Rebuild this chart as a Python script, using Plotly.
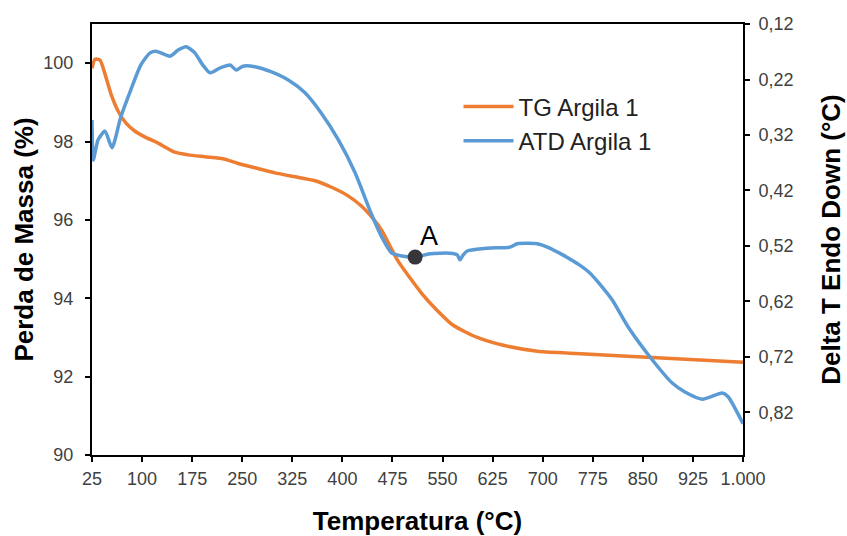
import plotly.graph_objects as go

# TG curve: mass (%) versus temperature (°C)
temp_tg = [25, 29.5, 37, 44.5, 53.5, 64, 76, 89, 104, 124, 149, 169, 194, 224, 244,
           269, 299, 329, 359, 383, 408, 428, 446, 459, 483, 519, 542, 566, 602, 641,
           692, 741, 771, 864, 1000]
mass_tg = [99.87, 100.10, 100.08, 99.72, 99.21, 98.78, 98.47, 98.27, 98.12, 97.96,
           97.73, 97.66, 97.61, 97.55, 97.44, 97.33, 97.20, 97.10, 97.00, 96.84,
           96.62, 96.36, 96.03, 95.73, 94.96, 94.12, 93.69, 93.31, 93.00, 92.80,
           92.65, 92.60, 92.57, 92.49, 92.37]

# ATD curve: delta T (°C) versus temperature (°C)
temp_atd = [25, 27, 34, 44.5, 55, 68, 83, 98, 112, 121, 142, 154, 166, 179, 191, 202,
            217, 232, 241, 251, 269, 293, 319, 344, 368, 394, 419, 443, 459, 474, 489,
            509, 531, 561, 572, 576, 581, 587, 617, 651, 662, 692, 707, 730, 756, 771,
            783, 804, 828, 864, 894, 913, 939, 969, 978, 1000]
delta_atd = [0.293, 0.365, 0.329, 0.313, 0.343, 0.288, 0.239, 0.194, 0.172, 0.169,
             0.178, 0.167, 0.161, 0.172, 0.194, 0.208, 0.199, 0.194, 0.203, 0.196,
             0.197, 0.206, 0.221, 0.244, 0.280, 0.329, 0.388, 0.461, 0.504, 0.533,
             0.538, 0.540, 0.534, 0.533, 0.536, 0.545, 0.536, 0.529, 0.524, 0.522,
             0.516, 0.516, 0.522, 0.536, 0.555, 0.569, 0.585, 0.617, 0.666, 0.725,
             0.767, 0.783, 0.796, 0.785, 0.792, 0.840]

# Marked point A on the ATD curve
point_a_index = 31
point_a_label = "A"

# Axis ticks
x_ticks = [25, 100, 175, 250, 325, 400, 475, 550, 625, 700, 775, 850, 925, 1000]
x_tick_text = ["25", "100", "175", "250", "325", "400", "475", "550", "625", "700",
               "775", "850", "925", "1.000"]
y_ticks = [90, 92, 94, 96, 98, 100]
y2_ticks = [0.12, 0.22, 0.32, 0.42, 0.52, 0.62, 0.72, 0.82]
y2_tick_text = ["0,12", "0,22", "0,32", "0,42", "0,52", "0,62", "0,72", "0,82"]

ORANGE = "#ED7D31"
BLUE = "#5B9BD5"
FONT = "Liberation Sans, Arial, sans-serif"
TICK_FONT = dict(family=FONT, size=18, color="#404040")
TITLE_FONT = dict(family=FONT, size=26, color="black", weight="bold")

x_range = [25, 1000]
y_range = [90, 101]
y2_range = [0.8966, 0.12]

fig = go.Figure()
fig.add_trace(go.Scatter(
    x=temp_tg, y=mass_tg, name="TG Argila 1", mode="lines",
    line=dict(color=ORANGE, width=3.5, shape="spline", smoothing=0.6),
))
fig.add_trace(go.Scatter(
    x=temp_atd, y=delta_atd, name="ATD Argila 1", mode="lines", yaxis="y2",
    line=dict(color=BLUE, width=3.5, shape="spline", smoothing=0.6),
))
fig.add_trace(go.Scatter(
    x=[temp_atd[point_a_index]], y=[delta_atd[point_a_index]], yaxis="y2",
    mode="markers", marker=dict(color="#36363B", size=15),
    showlegend=False, hoverinfo="skip",
))
fig.add_annotation(
    x=temp_atd[point_a_index], y=delta_atd[point_a_index], xref="x", yref="y2",
    text=point_a_label, showarrow=False, xshift=14, yshift=21,
    font=dict(family=FONT, size=27, color="black"),
)

axis_line = dict(showline=True, linecolor="black", linewidth=2, showgrid=False,
                 zeroline=False, ticks="outside", ticklen=5, tickwidth=2,
                 tickcolor="black", automargin=False)
inner_ticks = dict(showline=False, showgrid=False, zeroline=False, ticks="inside",
                   ticklen=5, tickwidth=2, tickcolor="black", showticklabels=False,
                   automargin=False)

fig.update_layout(
    width=847, height=536,
    margin=dict(l=92, r=104, t=24, b=81, autoexpand=False),
    paper_bgcolor="white", plot_bgcolor="white",
    font=dict(family=FONT),
    xaxis=dict(range=x_range, tickmode="array", tickvals=x_ticks, ticktext=x_tick_text,
               tickfont=TICK_FONT, mirror=True, ticklabelstandoff=1,
               title=dict(text="Temperatura (°C)", font=TITLE_FONT, standoff=30),
               **axis_line),
    yaxis=dict(range=y_range, tickmode="array", tickvals=y_ticks,
               tickfont=TICK_FONT, ticklabelstandoff=8,
               title=dict(text="Perda de Massa (%)", font=TITLE_FONT, standoff=2),
               **axis_line),
    yaxis2=dict(range=y2_range, overlaying="y", side="right", anchor="x",
                tickmode="array", tickvals=y2_ticks, ticktext=y2_tick_text,
                tickfont=TICK_FONT, ticklabelstandoff=5,
                title=dict(text="Delta T Endo Down (°C)", font=TITLE_FONT, standoff=29),
                **axis_line),
    xaxis3=dict(range=x_range, overlaying="x", anchor="y", side="bottom",
                tickmode="array", tickvals=x_ticks, **inner_ticks),
    yaxis3=dict(range=y_range, overlaying="y", anchor="x", side="left",
                tickmode="array", tickvals=y_ticks, **inner_ticks),
    yaxis4=dict(range=y2_range, overlaying="y", anchor="x", side="right",
                tickmode="array", tickvals=y2_ticks, **inner_ticks),
    legend=dict(x=0.563, y=0.86, xanchor="left", yanchor="top",
                bgcolor="rgba(0,0,0,0)", font=dict(family=FONT, size=24, color="#222"),
                itemwidth=50, tracegroupgap=0),
    showlegend=True,
)

fig.write_html("out.html")
